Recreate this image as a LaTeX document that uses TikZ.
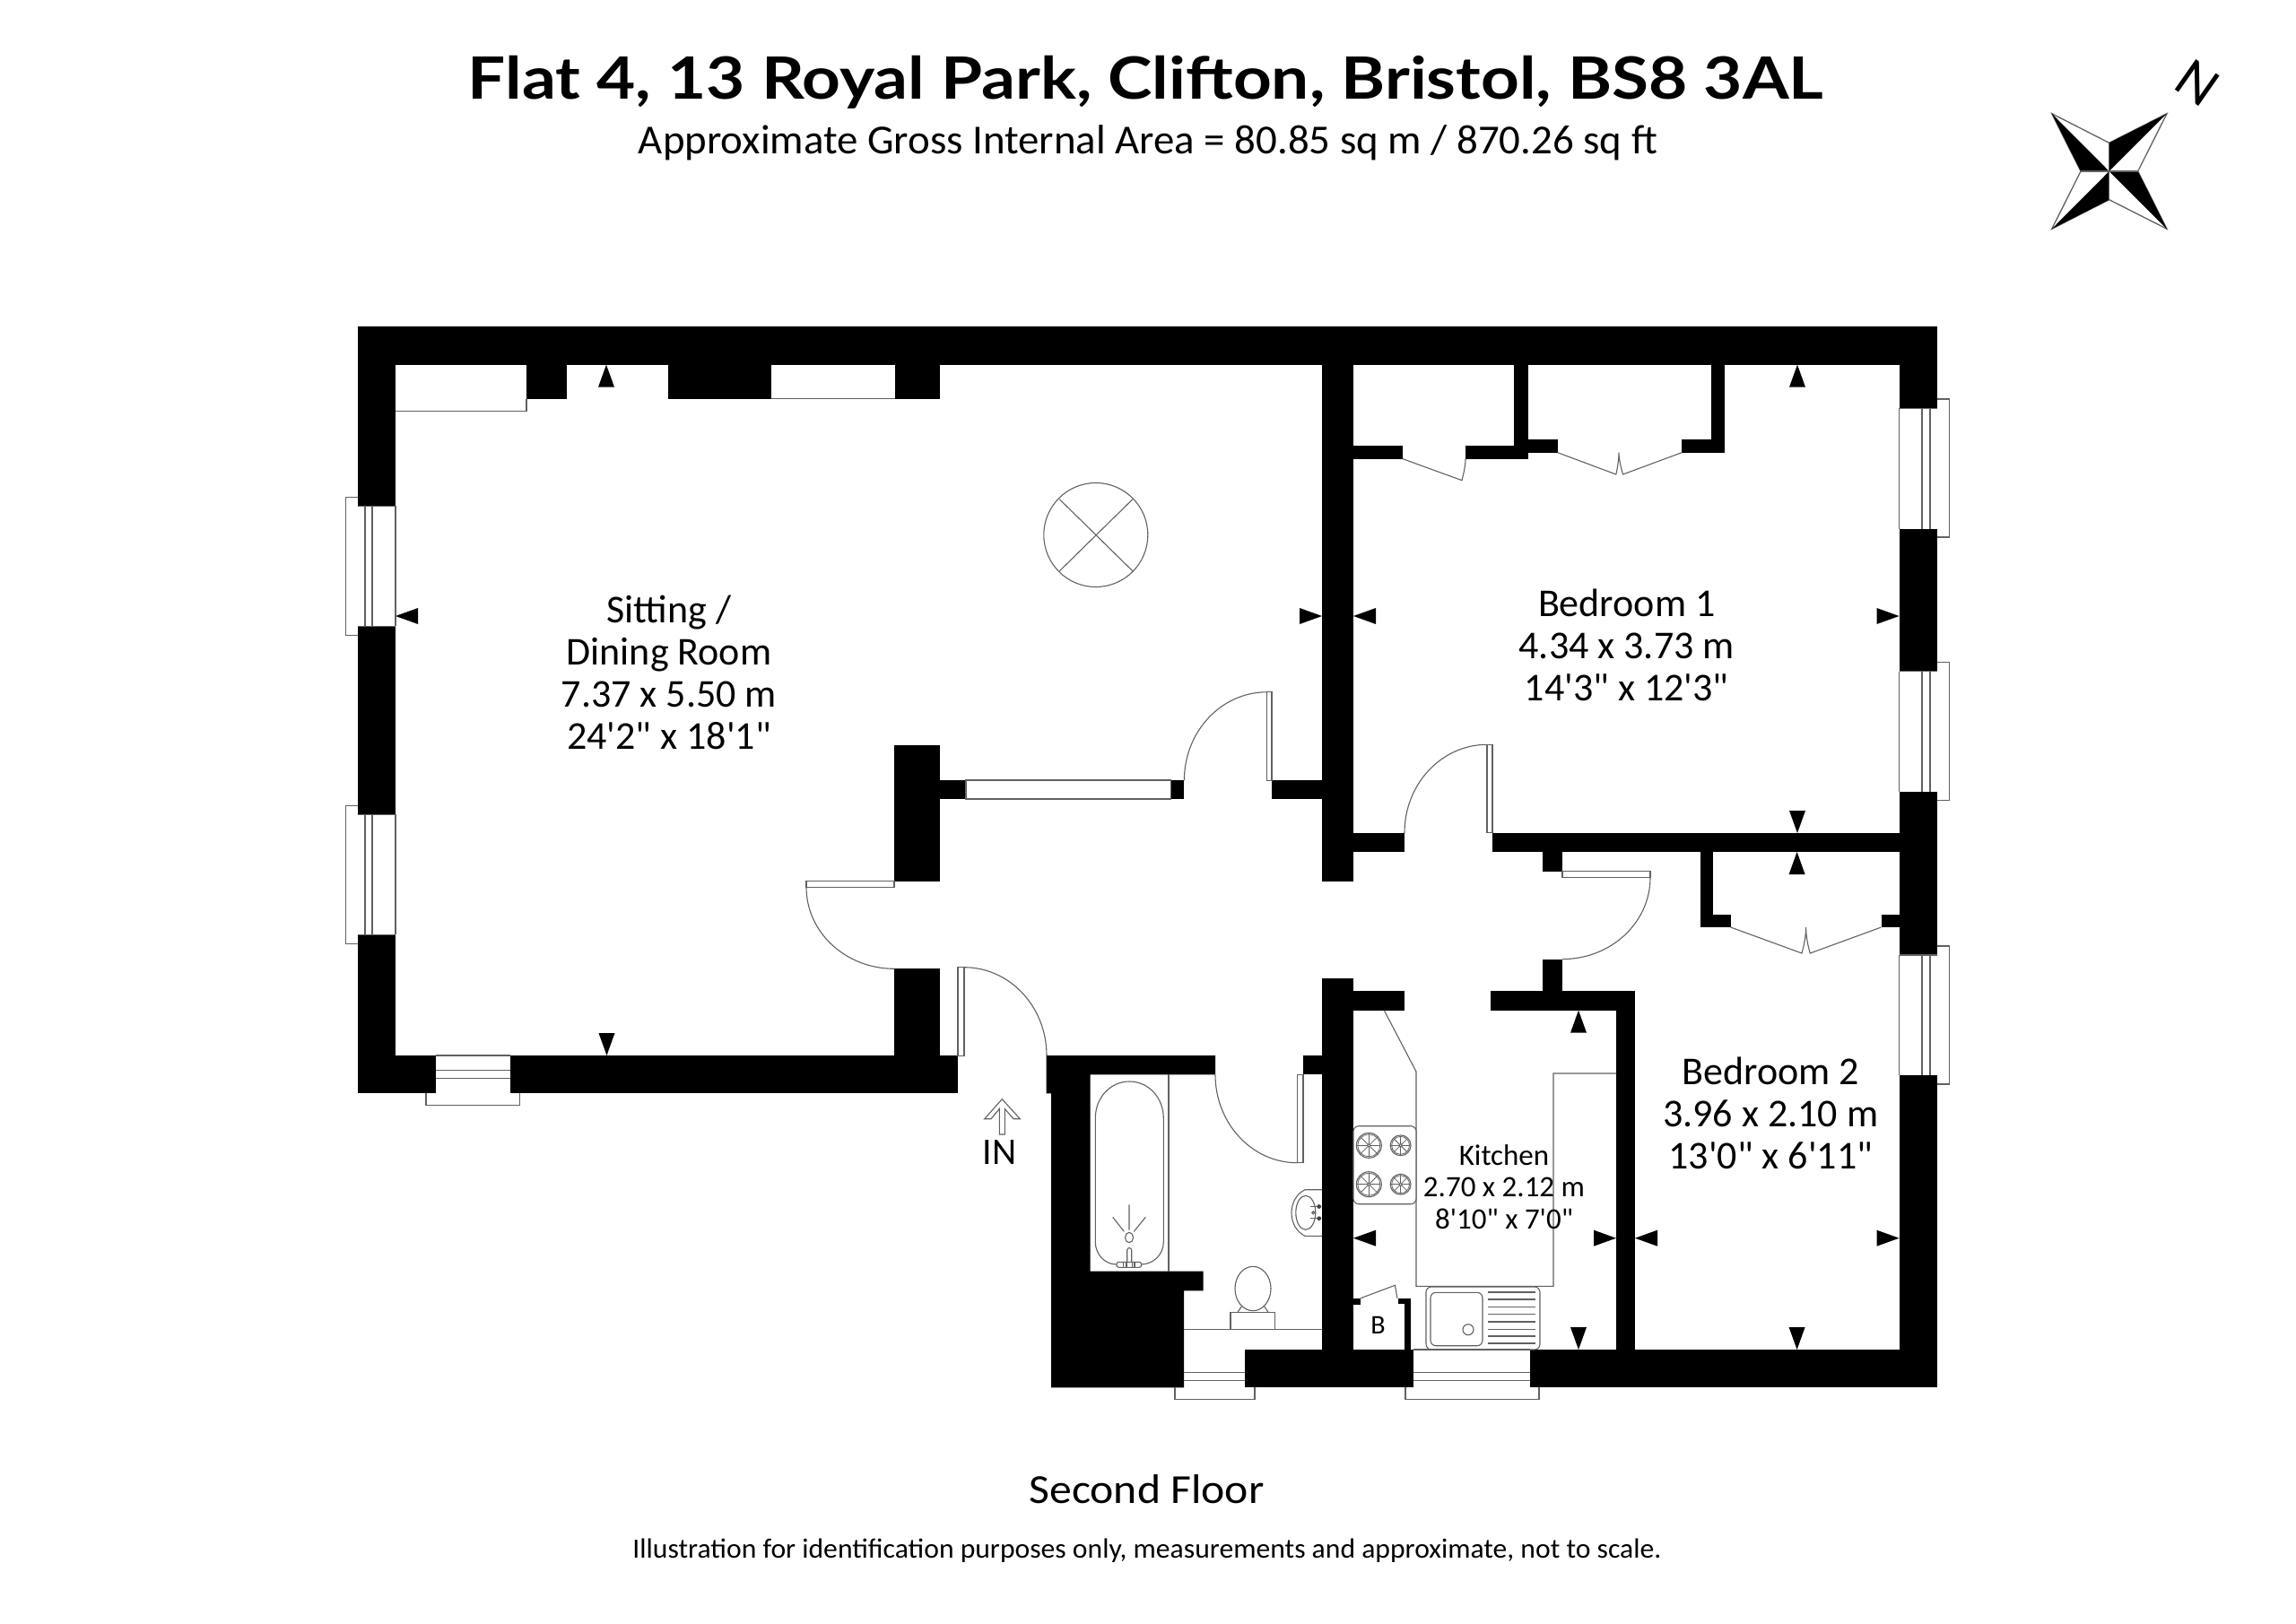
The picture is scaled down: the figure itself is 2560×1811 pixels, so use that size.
\documentclass[tikz,border=0pt]{standalone}
\usepackage{fontspec}
\usepackage{graphicx}
\setmainfont{Carlito}[Ligatures=TeXOff]
\newfontfamily\titlefont{Lato}
\tikzset{
  x=1pt,y=-1pt,
  wall/.style={fill=black,draw=none},
  thinl/.style={draw=black!62,line width=1.1pt,line join=miter},
  label/.style={inner sep=0pt,outer sep=0pt,align=center,text=black},
  roomlab/.style={label,font=\fontsize{44}{47}\selectfont},
  kitlab/.style={label,font=\fontsize{33}{35.4}\selectfont},
}
\newcommand{\wl}[4]{\fill[wall] (#1,#2) rectangle (#3,#4);}
\newcommand{\qarc}[6]{\draw[thinl] (#3,#4) .. controls ({#3+0.5523*(#5-#1)},{#4+0.5523*(#6-#2)}) and ({#5+0.5523*(#3-#1)},{#6+0.5523*(#4-#2)}) .. (#5,#6);}
\newcommand{\tipU}[2]{\fill (#1,#2) -- (#1+9,#2+25) -- (#1-9,#2+25) -- cycle;}
\newcommand{\tipD}[2]{\fill (#1,#2) -- (#1+9,#2-25) -- (#1-9,#2-25) -- cycle;}
\newcommand{\tipL}[2]{\fill (#1,#2) -- (#1+25,#2+9) -- (#1+25,#2-9) -- cycle;}
\newcommand{\tipR}[2]{\fill (#1,#2) -- (#1-25,#2+9) -- (#1-25,#2-9) -- cycle;}
\newcommand{\burner}[3]{%
  \draw[thinl] (#1,#2) circle[radius=#3];
  \draw[thinl,line width=.8pt] (#1,#2) circle[radius=#3-1.5];
  \draw[thinl,fill=white] (#1,#2) circle[radius=1.8];
  \foreach \a in {0,45,...,315}{\draw[thinl,line width=.8pt] ({#1+1.8*cos(\a)},{#2+1.8*sin(\a)}) -- ({#1+(#3-1)*cos(\a)},{#2+(#3-1)*sin(\a)});}
}
\begin{document}
\begin{tikzpicture}
\useasboundingbox[fill=white] (0,0) rectangle (2560,1811);

% title block
\node[label,anchor=base] (title) at (1277.5,110.7) {\resizebox{1511pt}{\height}{\titlefont\fontsize{65}{70}\selectfont\bfseries Flat 4, 13 Royal Park, Clifton, Bristol, BS8 3AL}};
\node[label,anchor=base] (subtitle) at (1280,171.7) {\resizebox{1136pt}{\height}{\fontsize{46}{50}\selectfont Approximate Gross Internal Area = 80.85 sq m / 870.26 sq ft}};
\node[label,anchor=base] (floor) at (1278.5,1676.7) {\resizebox{262pt}{\height}{\fontsize{46}{50}\selectfont Second Floor}};
\node[label,anchor=base] (note) at (1279,1737.3) {\resizebox{1147pt}{\height}{\fontsize{31}{35}\selectfont Illustration for identification purposes only, measurements and approximate, not to scale.}};

% compass
\draw[thinl,line width=1.3pt] (2287.7,126.7) -- (2351.7,159.3) -- (2416,126.7) -- (2383.7,191) -- (2416,255.3) -- (2351.7,222.7) -- (2287.7,255.3) -- (2320,191) -- cycle;
\fill (2287.7,126.7) -- (2320,191) -- (2351.7,191) -- cycle;
\fill (2416,126.7) -- (2351.7,159.3) -- (2351.7,191) -- cycle;
\fill (2416,255.3) -- (2383.7,191) -- (2351.7,191) -- cycle;
\fill (2287.7,255.3) -- (2351.7,222.7) -- (2351.7,191) -- cycle;
\draw[thinl,line width=1.3pt] (2320,191) -- (2383.7,191) (2351.7,159.3) -- (2351.7,222.7);
\node[label,rotate=-35,font=\fontsize{64}{64}\selectfont] (north) at (2450.3,92.4) {N};

% walls
\wl{398.5}{364}{2159.6}{406.7}
\wl{398.5}{364}{441}{564.3}
\wl{398.5}{698.3}{441}{908.3}
\wl{398.5}{1042.3}{441}{1219.3}
\wl{398.5}{1177}{485.6}{1219.3}
\wl{569}{1177}{1068}{1219.3}
\wl{587}{406.7}{632}{444.7}
\wl{745}{406.7}{860}{444.7}
\wl{998}{406.7}{1048}{444.7}
\wl{997}{830.7}{1048}{982.7}
\wl{997}{1080.3}{1048}{1177}
\wl{1048}{870}{1077}{891}
\wl{1305.6}{870}{1320.4}{891}
\wl{1418}{870.3}{1474}{891.3}
\wl{1474}{406.7}{1509}{982.7}
\wl{1509}{497}{1564}{511.7}
\wl{1634}{497}{1703.5}{511.7}
\wl{1688}{406.7}{1703.5}{511.7}
\wl{1703.5}{489.8}{1736.5}{504.6}
\wl{1875.4}{489.8}{1922.5}{504.6}
\wl{1908.4}{406.7}{1922.5}{504.6}
\wl{1509}{929}{1566}{950}
\wl{1664}{929}{2117.5}{950}
\wl{1720}{950}{1742}{972.3}
\wl{1895.7}{950}{1910.4}{1034}
\wl{1895.7}{1019.6}{1929.6}{1034}
\wl{2097.5}{1019.6}{2117.5}{1034}
\wl{2117.5}{364}{2159.6}{455.3}
\wl{2117.5}{589.6}{2159.6}{748.7}
\wl{2117.5}{883}{2159.6}{1065}
\wl{2117.5}{1199}{2159.6}{1547.3}
\wl{1720}{1069.6}{1742}{1105.4}
\wl{1661.5}{1105.4}{1823}{1126.8}
\wl{1802}{1105.4}{1823}{1505}
\wl{1474}{1091.3}{1509}{1505}
\wl{1509}{1105.3}{1566}{1126.7}
\wl{1453}{1177}{1474}{1198.3}
\wl{1388}{1505}{1576}{1547.3}
\wl{1706}{1505}{2159.6}{1547.3}
\wl{1509}{1447.7}{1517}{1455}
\wl{1558.5}{1447.7}{1573}{1454}
\wl{1566}{1447.7}{1573}{1505}
\fill[wall] (1166.5,1177) -- (1355,1177) -- (1355,1198.3) -- (1215.6,1198.3) -- (1215.6,1417.7) -- (1341.5,1417.7) -- (1341.5,1439.3) -- (1320,1439.3) -- (1320,1547.3) -- (1172,1547.3) -- (1172,1219.3) -- (1166.5,1219.3) -- cycle;

% recess lines
\draw[thinl] (441,458.3) -- (587,458.3) -- (587,444.7);
\draw[thinl] (860,444.7) -- (998,444.7);

% windows, left wall
\draw[thinl] (398.5,554.3) -- (385.5,554.3) -- (385.5,708.3) -- (398.5,708.3);
\draw[thinl] (407,564.3) -- (407,698.3) (415,564.3) -- (415,698.3) (441,564.3) -- (441,698.3) (398.5,564.3) -- (441,564.3) (398.5,698.3) -- (441,698.3);
\draw[thinl] (398.5,898.3) -- (385.5,898.3) -- (385.5,1052.3) -- (398.5,1052.3);
\draw[thinl] (407,908.3) -- (407,1042.3) (415,908.3) -- (415,1042.3) (441,908.3) -- (441,1042.3) (398.5,908.3) -- (441,908.3) (398.5,1042.3) -- (441,1042.3);
% windows, right wall
\draw[thinl] (2159.6,445) -- (2173.5,445) -- (2173.5,599) -- (2159.6,599);
\draw[thinl] (2143,455.3) -- (2143,589.6) (2152,455.3) -- (2152,589.6) (2117.5,455.3) -- (2117.5,589.6) (2117.5,455.3) -- (2159.6,455.3);
\draw[thinl] (2159.6,738.6) -- (2173.5,738.6) -- (2173.5,892.6) -- (2159.6,892.6);
\draw[thinl] (2143,748.7) -- (2143,883) (2152,748.7) -- (2152,883) (2117.5,748.7) -- (2117.5,883) (2117.5,748.7) -- (2159.6,748.7);
\draw[thinl] (2159.6,1055) -- (2173.5,1055) -- (2173.5,1209) -- (2159.6,1209);
\draw[thinl] (2143,1065) -- (2143,1199) (2152,1065) -- (2152,1199) (2117.5,1065) -- (2117.5,1199) (2117.5,1065) -- (2159.6,1065);
% windows, bottom wall
\draw[thinl] (475,1219.3) -- (475,1232.7) -- (579.5,1232.7) -- (579.5,1219.3);
\draw[thinl] (485.6,1193.7) -- (569,1193.7) (485.6,1202.7) -- (569,1202.7) (485.6,1177) -- (569,1177);
\draw[thinl] (1310,1547.3) -- (1310,1560.7) -- (1399,1560.7) -- (1399,1547.3);
\draw[thinl] (1320,1530.7) -- (1388,1530.7) (1320,1539.3) -- (1388,1539.3);
\draw[thinl] (1567,1547.3) -- (1567,1560.7) -- (1716,1560.7) -- (1716,1547.3);
\draw[thinl] (1576,1530.7) -- (1706,1530.7) (1576,1539.3) -- (1706,1539.3) (1576,1505) -- (1706,1505);
% internal glazed panel
\draw[thinl] (1077,870) rectangle (1305.6,891);

% doors
\draw[thinl] (899,982.7) rectangle (997,989.3);
\qarc{997}{989.3}{899}{989.3}{997}{1080.3}
\draw[thinl] (1068,1078.7) rectangle (1075,1177.7);
\qarc{1075}{1177}{1075}{1078.7}{1167}{1177}
\draw[thinl] (1412.3,771.8) rectangle (1418,870.3);
\qarc{1412.3}{870.3}{1412.3}{771.8}{1320.4}{870.3}
\draw[thinl] (1658,830.3) rectangle (1664,928.8);
\qarc{1658}{928.8}{1658}{830.3}{1566}{928.8}
\draw[thinl] (1742,971.4) rectangle (1840,978.6);
\qarc{1742}{978.6}{1840}{978.6}{1742}{1069.6}
\draw[thinl] (1446.4,1198.3) rectangle (1453,1296.7);
\qarc{1446.4}{1198.3}{1355}{1198.3}{1446.4}{1296.7}

% cupboard and wardrobe doors
\draw[thinl] (1564,511.7) -- (1630,535.7) .. controls (1632,527) and (1634,520) .. (1634,511.7);
\draw[thinl] (1736.5,504.6) -- (1801.8,529) .. controls (1803.5,522) and (1805,512) .. (1805,504.6) .. controls (1805,512) and (1807.5,522) .. (1809.5,529) -- (1875.4,504.6);
\draw[thinl] (1929.6,1034) -- (2009,1063) .. controls (2011,1055) and (2013.6,1045) .. (2013.6,1034) .. controls (2013.6,1045) and (2016,1055) .. (2018.2,1063) -- (2097.5,1034);
\draw[thinl] (1517,1447.7) -- (1555.4,1433.3) -- (1558,1447.7);

% ceiling rose
\draw[thinl] (1221.8,596.5) circle[radius=58];
\draw[thinl] (1181.4,556.8) -- (1262.8,636.7) (1262.8,556.8) -- (1181.4,636.7);

% bathroom fittings
\draw[thinl] (1303,1198.3) -- (1303,1417.7);
\draw[thinl] (1221.3,1247) .. controls (1221.3,1224) and (1238,1206) .. (1259.3,1206) .. controls (1280.5,1206) and (1297.3,1224) .. (1297.3,1247) -- (1297.3,1385) .. controls (1297.3,1399) and (1286,1410) .. (1272,1410) -- (1245,1410) .. controls (1232,1410) and (1221.3,1399) .. (1221.3,1385) -- cycle;
\draw[thinl,fill=white] (1256.7,1407.3) -- (1256.7,1394) .. controls (1256.7,1390.8) and (1261.7,1390.8) .. (1261.7,1394) -- (1261.7,1407.3);
\draw[thinl,fill=white,rounded corners=2.5pt] (1245,1407.3) rectangle (1272.7,1413.3);
\draw[thinl] (1252.7,1407.3) -- (1252.7,1413.3) (1256,1407.3) -- (1256,1413.3) (1262.7,1407.3) -- (1262.7,1413.3) (1265,1407.3) -- (1265,1413.3);
\draw[thinl] (1259,1380) ellipse[x radius=4.5,y radius=5.7];
\draw[thinl] (1259,1343.3) -- (1259,1371.7) (1240.7,1357.3) -- (1253.3,1373.3) (1277.3,1357.3) -- (1264.3,1373.3);
% basin
\draw[thinl] (1474,1326.7) -- (1455,1326.7) .. controls (1446,1331) and (1440,1341) .. (1440,1352.5) .. controls (1440,1364) and (1446,1374) .. (1455,1378.3) -- (1474,1378.3);
\draw[thinl] (1455.8,1352.3) ellipse[x radius=11,y radius=19];
\draw[thinl] (1460.7,1345.7) -- (1473,1345.7) (1460.7,1358.7) -- (1473,1358.7);
\fill[black!75] (1470.7,1345.5) circle[radius=2.4] (1470.7,1358.7) circle[radius=2.4];
\draw[thinl] (1464.3,1352.3) circle[radius=1.5];
% toilet
\draw[thinl] (1372,1482.3) rectangle (1421.4,1463.3);
\draw[thinl] (1380,1463.3) -- (1386.6,1453.3) (1414,1463.3) -- (1407.4,1453.3);
\draw[thinl,fill=white] (1397,1437) ellipse[x radius=20,y radius=24.7];
\draw[thinl] (1320,1482.3) -- (1474,1482.3);

% kitchen fittings
\draw[thinl] (1543.3,1126.7) -- (1579,1195) -- (1579,1434.3) -- (1732,1434.3) -- (1732,1197) -- (1802,1197);
\draw[thinl,fill=white,rounded corners=6pt] (1509,1255.7) rectangle (1579,1342.7);
\burner{1526.3}{1277.3}{14}
\burner{1561.6}{1277.3}{11.4}
\burner{1526.3}{1320.7}{14}
\burner{1561.6}{1320.7}{11.4}
\draw[thinl,rounded corners=6pt] (1590,1435) rectangle (1717,1505);
\draw[thinl,rounded corners=6pt] (1595,1441.3) rectangle (1653,1500.7);
\draw[thinl] (1637,1482.7) circle[radius=6];
\foreach \yy in {1441,1449,1457.7,1465.7,1474,1482.3,1490,1498}{\draw[thinl] (1659,\yy) -- (1711.6,\yy);}

% entrance arrow
\draw[thinl] (1117.3,1225.7) -- (1137.3,1247.7) -- (1130,1247.7) -- (1120.3,1236.5) -- (1120.3,1265) -- (1114.3,1265) -- (1114.3,1236.5) -- (1105,1247.7) -- (1097.7,1247.7) -- cycle;
\node[label,anchor=base,font=\fontsize{42}{42}\selectfont] (inlab) at (1114.7,1298) {IN};

% dimension ticks
\tipU{676}{406.7} \tipU{2004}{406.7} \tipU{2003.6}{950} \tipU{1760}{1126.7}
\tipD{676.5}{1177} \tipD{2004}{929} \tipD{2003.6}{1505} \tipD{1760}{1505}
\tipL{441}{687} \tipL{1509}{687} \tipL{1509}{1380.7} \tipL{1823}{1380.7}
\tipR{1474}{687} \tipR{2117.5}{687} \tipR{1802}{1380.7} \tipR{2117.5}{1380.7}

% room labels (anchor=base of a multi-line node is the baseline of its last line)
\node[roomlab,anchor=base] (sitting) at (746,835) {Sitting /\\Dining Room\\7.37 x 5.50 m\\24'2" x 18'1"};
\node[roomlab,anchor=base] (bed1) at (1813.7,781.9) {Bedroom 1\\4.34 x 3.73 m\\14'3" x 12'3"};
\node[roomlab,anchor=base] (bed2) at (1974.3,1303.6) {Bedroom 2\\3.96 x 2.10 m\\13'0" x 6'11"};
\node[kitlab,anchor=base] (kitchen) at (1677,1370) {Kitchen\\2.70 x 2.12 m\\8'10" x 7'0"};
\node[label,anchor=base,font=\fontsize{30}{30}\selectfont] (boiler) at (1536.6,1487.3) {B};
\end{tikzpicture}
\end{document}
